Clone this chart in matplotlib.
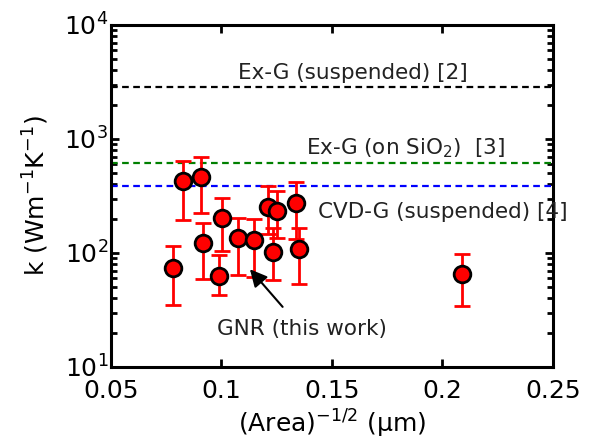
import matplotlib
matplotlib.use("Agg")
import matplotlib.pyplot as plt
import numpy as np

# GNR measurements: x = (Area)^-1/2 in 1/um, k in W/mK, with error bar ends
gnr_x = [0.0782, 0.0827, 0.0906, 0.0918, 0.1001, 0.0990, 0.1073, 0.1147,
         0.1212, 0.1250, 0.1234, 0.1337, 0.1351, 0.2090]
gnr_k = [74.5, 426, 466, 123, 201, 62.9, 134, 130,
         254, 233, 101, 276, 109, 65]
gnr_hi = [115, 637, 697, 184, 305, 95.4, 204, 200,
          385, 348, 164, 421, 164, 98.6]
gnr_lo = [34.8, 194, 225, 59.7, 104, 42.7, 63.8, 61.6,
          146, 134, 58, 132, 53.2, 34.4]

# reference values for other graphene
ref_names = ["Ex-G (suspended) [2]", "Ex-G (on SiO$_2$)  [3]", "CVD-G (suspended) [4]"]
ref_k = [2870, 620, 383]
ref_colors = ["black", "green", "blue"]
ref_label_xy = [(0.1075, 3800), (0.1382, 830), (0.1437, 231)]

plt.rcParams['font.family'] = ['DejaVu Sans']
plt.rcParams['mathtext.fontset'] = 'dejavusans'

fig = plt.figure(figsize=(5.93, 4.43), dpi=100)
ax = fig.add_axes([0.187, 0.1716, 0.7455, 0.772])

for k, c in zip(ref_k, ref_colors):
    ax.axhline(k, color=c, ls=(0, (3, 2)), lw=1.6)
for name, (tx, ty) in zip(ref_names, ref_label_xy):
    ax.text(tx, ty, name, fontsize=15.5, ha='left', va='center', color='#222222')

gnr_k = np.array(gnr_k)
yerr = [gnr_k - np.array(gnr_lo), np.array(gnr_hi) - gnr_k]
ax.errorbar(gnr_x, gnr_k, yerr=yerr, fmt='o', color='red', ecolor='red',
            elinewidth=2, capsize=6, capthick=2, ms=12, mfc='red',
            mec='black', mew=2, zorder=3)

ax.annotate("GNR (this work)", xy=(0.1129, 72), xytext=(0.098, 21.5),
            fontsize=15.5, ha='left', va='center', color='#222222',
            arrowprops=dict(arrowstyle='-|>', color='black', lw=1.5,
                            mutation_scale=26, shrinkA=9, shrinkB=0))

ax.set_yscale('log')
ax.set_xlim(0.05, 0.25)
ax.set_ylim(10, 1e4)
ax.set_xticks([0.05, 0.1, 0.15, 0.2, 0.25])
ax.set_xticklabels(["0.05", "0.1", "0.15", "0.2", "0.25"])

ax.tick_params(which='both', direction='in', top=True, right=True, labelsize=18, width=2)
ax.tick_params(which='major', length=6, pad=2)
ax.tick_params(which='minor', length=4)
ax.tick_params(axis='x', pad=9)
for s in ax.spines.values():
    s.set_linewidth(2.2)

ax.set_xlabel("(Area)$^{-1/2}$ (μm)", fontsize=18, labelpad=3)
ax.set_ylabel("k (Wm$^{-1}$K$^{-1}$)", fontsize=18, labelpad=9)

fig.savefig("out.png", dpi=100)
